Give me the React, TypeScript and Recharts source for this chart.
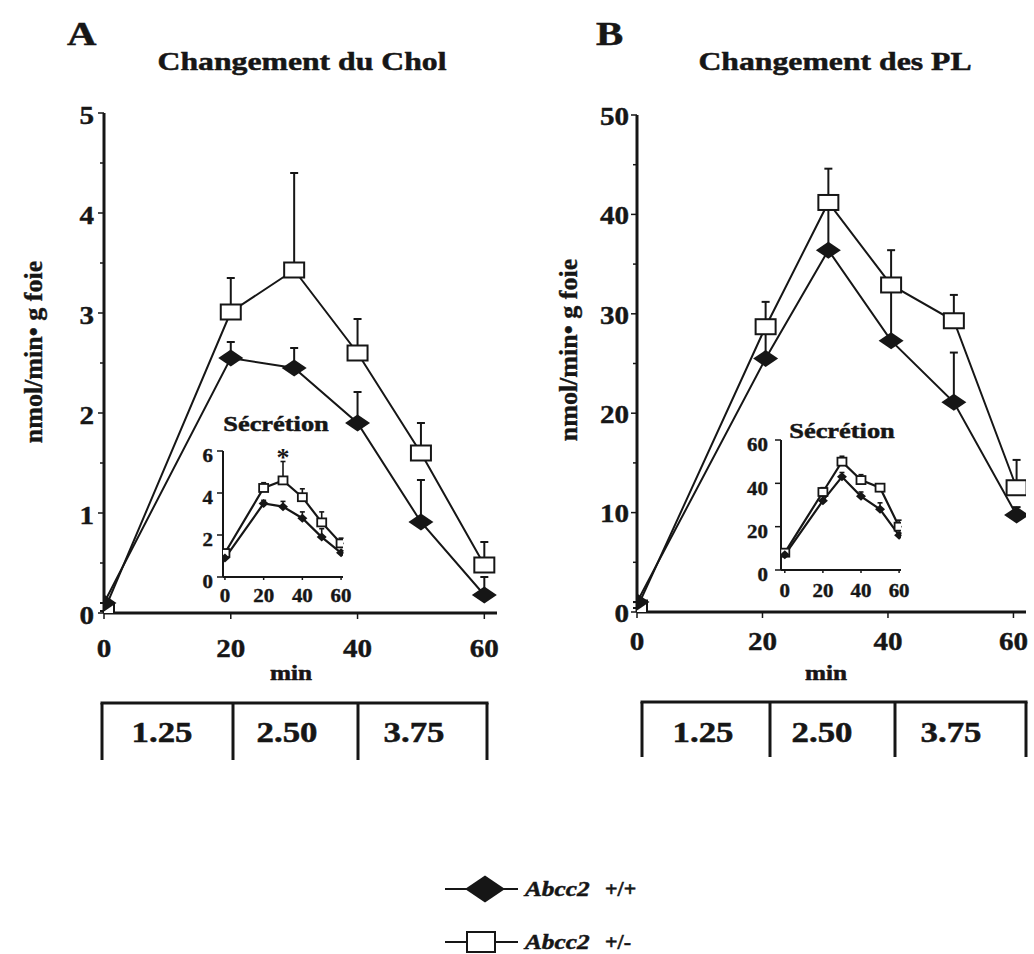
import React from 'react';
import { LineChart, Line, XAxis, YAxis, ErrorBar, ReferenceDot } from 'recharts';

// Changement du Chol (A), nmol/min• g foie, mean + upper SEM
const cholMinutes = [0, 20, 30, 40, 50, 60];
const cholWildType = [0.1, 2.55, 2.45, 1.9, 0.91, 0.18];
const cholWildTypeSem = [0, 0.16, 0.2, 0.31, 0.42, 0.18];
const cholHetero = [0.02, 3.01, 3.43, 2.6, 1.6, 0.48];
const cholHeteroSem = [0, 0.34, 0.97, 0.34, 0.3, 0.23];

// Changement des PL (B)
const plMinutes = [0, 20.5, 30.5, 40.5, 50.5, 60.5];
const plWildType = [1.0, 25.5, 36.4, 27.3, 21.1, 9.75];
const plWildTypeSem = [0, 3, 5, 5.2, 5, 0.8];
const plHetero = [0.4, 28.7, 41.2, 32.9, 29.3, 12.5];
const plHeteroSem = [0, 2.5, 3.4, 3.5, 2.6, 2.8];

// insets "Sécrétion"
const secMinutes = [0, 20, 30, 40, 50, 60];
const secCholWildType = [0.9, 3.5, 3.35, 2.8, 1.9, 1.15];
const secCholWildTypeSem = [0, 0.15, 0.25, 0.3, 0.4, 0.1];
const secCholHetero = [1.14, 4.24, 4.6, 3.8, 2.6, 1.6];
const secCholHeteroSem = [0.1, 0.25, 0.9, 0.4, 0.5, 0.25];
const secPlWildType = [7, 32, 43, 34, 28, 16];
const secPlWildTypeSem = [0, 2, 2, 2, 3, 1];
const secPlHetero = [8, 36, 50, 41.5, 38, 20];
const secPlHeteroSem = [1, 2, 2.5, 2.5, 1.5, 3];

// ticks / labels
const minuteTicks = [0, 20, 40, 60];
const cholYTicks = [0, 0.5, 1, 1.5, 2, 2.5, 3, 3.5, 4, 4.5, 5];
const plYTicks = [0, 5, 10, 15, 20, 25, 30, 35, 40, 45, 50];
const secCholYTicks = [0, 2, 4, 6];
const secPlYTicks = [0, 20, 40, 60];
const doseLabels = ['1.25', '2.50', '3.75'];
const seriesNames = ['Abcc2', 'Abcc2'];
const genotypes = ['+/+', '+/-'];

const INK = '#161616';
const SERIF = '"Liberation Serif", "Times New Roman", serif';

const rows = (xs: number[], a: number[], ae: number[], b: number[], be: number[]) =>
  xs.map((m, i) => ({ m, wt: a[i], wtErr: [0, ae[i]], het: b[i], hetErr: [0, be[i]] }));

const cholData = rows(cholMinutes, cholWildType, cholWildTypeSem, cholHetero, cholHeteroSem);
const plData = rows(plMinutes, plWildType, plWildTypeSem, plHetero, plHeteroSem);
const secCholData = rows(secMinutes, secCholWildType, secCholWildTypeSem, secCholHetero, secCholHeteroSem);
const secPlData = rows(secMinutes, secPlWildType, secPlWildTypeSem, secPlHetero, secPlHeteroSem);

// stretched bold serif text (the scan is wider than tall)
function SText({ x, y, size, sx = 1.2, anchor = 'middle', italic = false, children }: any) {
  return (
    <text
      transform={`translate(${x},${y}) scale(${sx},1)`}
      textAnchor={anchor}
      fontSize={size}
      fontWeight="bold"
      fontStyle={italic ? 'italic' : 'normal'}
      fontFamily={SERIF}
      fill={INK}
      stroke={INK}
      strokeWidth={0.5}
    >
      {children}
    </text>
  );
}

// tickSize=8, tickMargin=0 -> axis line sits 8px from the tick position recharts gives
const yTick = (isMajor: (v: number) => boolean, size: number, gap: number, sx: number, drop: number) => (p: any) => {
  const ax = p.x + 8;
  const v = p.payload.value;
  const major = isMajor(v);
  return (
    <g>
      <line x1={ax - (major ? 6 : 4)} x2={ax} y1={p.y} y2={p.y} stroke={INK} strokeWidth={1.5} />
      {major && (
        <text transform={`translate(${ax - gap},${p.y + size * 0.34 + drop}) scale(${sx},1)`} textAnchor="end"
          fontSize={size} fontWeight="bold" fontFamily={SERIF} fill={INK} stroke={INK} strokeWidth={0.4}>{v}</text>
      )}
    </g>
  );
};

const xTick = (size: number, drop: number, sx: number, len: number) => (p: any) => {
  const ay = p.y - 8;
  return (
    <g>
      <line x1={p.x} x2={p.x} y1={ay} y2={ay + len} stroke={INK} strokeWidth={1.5} />
      <text transform={`translate(${p.x},${ay + drop}) scale(${sx},1)`} textAnchor="middle"
        fontSize={size} fontWeight="bold" fontFamily={SERIF} fill={INK} stroke={INK} strokeWidth={0.4}>{p.payload.value}</text>
    </g>
  );
};

const diamondDot = (hw: number, hh: number) => (p: any) => {
  const { cx, cy, index } = p;
  if (cx == null || cy == null) return <g key={`dd-${index}`} />;
  return (
    <path key={`dd-${index}`} d={`M${cx - hw},${cy} L${cx},${cy - hh} L${cx + hw},${cy} L${cx},${cy + hh} Z`} fill={INK} />
  );
};

const squareDot = (hw: number, hh: number, sw: number) => (p: any) => {
  const { cx, cy, index } = p;
  if (cx == null || cy == null) return <g key={`sq-${index}`} />;
  return (
    <rect key={`sq-${index}`} x={cx - hw} y={cy - hh} width={hw * 2} height={hh * 2} fill="#fff" stroke={INK} strokeWidth={sw} />
  );
};

function Panel({ data, left, top, width, height, margin, xDomain, yDomain, yTicks, isMajor, tickSize, xDrop, yGap, yDrop = 0, big, children }: any) {
  const lw = big ? 2 : 2.2;
  return (
    <div style={{ position: 'absolute', left, top }}>
      <LineChart width={width} height={height} data={data} margin={margin}>
        <XAxis dataKey="m" type="number" domain={xDomain} ticks={minuteTicks} interval={0} allowDataOverflow
          height={big ? 50 : 30} tickSize={8} tickMargin={0} tickLine={false}
          axisLine={{ stroke: INK, strokeWidth: big ? 3 : 2 }}
          tick={xTick(tickSize, xDrop, big ? 1.12 : 1.1, big ? 6 : 3)} />
        <YAxis type="number" domain={yDomain} ticks={yTicks} interval={0} allowDataOverflow
          width={big ? 50 : 30} tickSize={8} tickMargin={0} tickLine={false}
          axisLine={{ stroke: INK, strokeWidth: big ? 3 : 2 }}
          tick={yTick(isMajor, tickSize, yGap, big ? 1.12 : 1.1, yDrop)} />
        <Line type="linear" dataKey="het" stroke={INK} strokeWidth={lw} isAnimationActive={false} activeDot={false}
          dot={big ? squareDot(10, 7.5, 2) : squareDot(4.5, 4, 1.8)}>
          <ErrorBar dataKey="hetErr" direction="y" width={big ? 4 : 2.5} stroke={INK} strokeWidth={big ? 2 : 1.6} isAnimationActive={false} />
        </Line>
        <Line type="linear" dataKey="wt" stroke={INK} strokeWidth={lw} isAnimationActive={false} activeDot={false}
          dot={big ? diamondDot(12.5, 8.5) : diamondDot(5, 4.5)}>
          <ErrorBar dataKey="wtErr" direction="y" width={big ? 4 : 2.5} stroke={INK} strokeWidth={big ? 2 : 1.6} isAnimationActive={false} />
        </Line>
        {children}
      </LineChart>
    </div>
  );
}

function DoseRow({ top, bottom, edges, centers }: { top: number; bottom: number; edges: number[]; centers: number[] }) {
  return (
    <g>
      <line x1={edges[0] - 1.5} x2={edges[edges.length - 1] + 1.5} y1={top} y2={top} stroke={INK} strokeWidth={3} />
      {edges.map((x) => (
        <line key={x} x1={x} x2={x} y1={top} y2={bottom} stroke={INK} strokeWidth={3} />
      ))}
      {doseLabels.map((d, i) => (
        <SText key={d} x={centers[i]} y={742} size={29} sx={1.2}>{d}</SText>
      ))}
    </g>
  );
}

export default function App() {
  return (
    <div style={{ position: 'absolute', left: 0, top: 0, width: 1034, height: 954, background: '#fff', overflow: 'hidden' }}>
      <svg width={1034} height={954} style={{ position: 'absolute', left: 0, top: 0 }}>
        <SText x={67} y={45} size={34} anchor="start">A</SText>
        <SText x={596} y={45} size={34} anchor="start">B</SText>
        <SText x={302} y={70} size={26} sx={1.22}>Changement du Chol</SText>
        <SText x={835} y={70} size={26} sx={1.22}>Changement des PL</SText>

        <text transform="translate(42,352) rotate(-90)" textAnchor="middle" fontSize={26} fontWeight="bold" fontFamily={SERIF} fill={INK} stroke={INK} strokeWidth={0.4}>nmol/min• g foie</text>
        <text transform="translate(577,350) rotate(-90)" textAnchor="middle" fontSize={26} fontWeight="bold" fontFamily={SERIF} fill={INK} stroke={INK} strokeWidth={0.4}>nmol/min• g foie</text>

        <SText x={291} y={680} size={21}>min</SText>
        <SText x={826} y={680} size={21}>min</SText>

        <SText x={276} y={431} size={22}>Sécrétion</SText>
        <SText x={842} y={438} size={22}>Sécrétion</SText>

        <DoseRow top={703} bottom={760} edges={[102, 233, 358, 487]} centers={[162, 287, 414]} />
        <DoseRow top={702} bottom={757} edges={[642, 770, 895, 1026]} centers={[703, 822, 951]} />

        {/* legend */}
        <line x1={445} x2={518} y1={889} y2={889} stroke={INK} strokeWidth={2} />
        <path d="M465,889 L485,875.5 L505,889 L485,902.5 Z" fill={INK} />
        <SText x={525} y={896} size={22} sx={1.15} anchor="start" italic>{seriesNames[0]}</SText>
        <SText x={605} y={896} size={20} sx={1.1} anchor="start">{genotypes[0]}</SText>
        <line x1={445} x2={518} y1={942} y2={942} stroke={INK} strokeWidth={2} />
        <rect x={467} y={932} width={28} height={20} fill="#fff" stroke={INK} strokeWidth={2} />
        <SText x={525} y={949} size={22} sx={1.15} anchor="start" italic>{seriesNames[1]}</SText>
        <SText x={605} y={949} size={20} sx={1.1} anchor="start">{genotypes[1]}</SText>
      </svg>

      <Panel data={cholData} left={0} top={0} width={520} height={680}
        margin={{ top: 113, right: 23, bottom: 17, left: 54 }}
        xDomain={[0, 62]} yDomain={[0, 5]} yTicks={cholYTicks} isMajor={(v: number) => Number.isInteger(v)}
        tickSize={26} xDrop={44} yGap={10} yDrop={2} big />
      <Panel data={plData} left={520} top={0} width={514} height={680}
        margin={{ top: 115, right: 8, bottom: 18, left: 67 }}
        xDomain={[0, 62]} yDomain={[0, 50]} yTicks={plYTicks} isMajor={(v: number) => v % 10 === 0}
        tickSize={26} xDrop={38} yGap={8} yDrop={1} big />

      <Panel data={secCholData} left={160} top={430} width={200} height={190}
        margin={{ top: 21, right: 17, bottom: 13, left: 33 }}
        xDomain={[-1, 61]} yDomain={[0, 6]} yTicks={secCholYTicks} isMajor={() => true}
        tickSize={19} xDrop={25} yGap={10} yDrop={5}>
        <ReferenceDot x={secMinutes[2]} y={secCholHetero[2] + secCholHeteroSem[2]} r={0} fill="none" stroke="none"
          label={{ value: '*', position: 'top', offset: -4, fontSize: 26, fontWeight: 'bold', fill: INK, fontFamily: SERIF }} />
      </Panel>
      <Panel data={secPlData} left={720} top={420} width={200} height={190}
        margin={{ top: 20, right: 19, bottom: 10, left: 31 }}
        xDomain={[-2, 61]} yDomain={[0, 60]} yTicks={secPlYTicks} isMajor={() => true}
        tickSize={19} xDrop={27} yGap={13} yDrop={5} />
    </div>
  );
}
